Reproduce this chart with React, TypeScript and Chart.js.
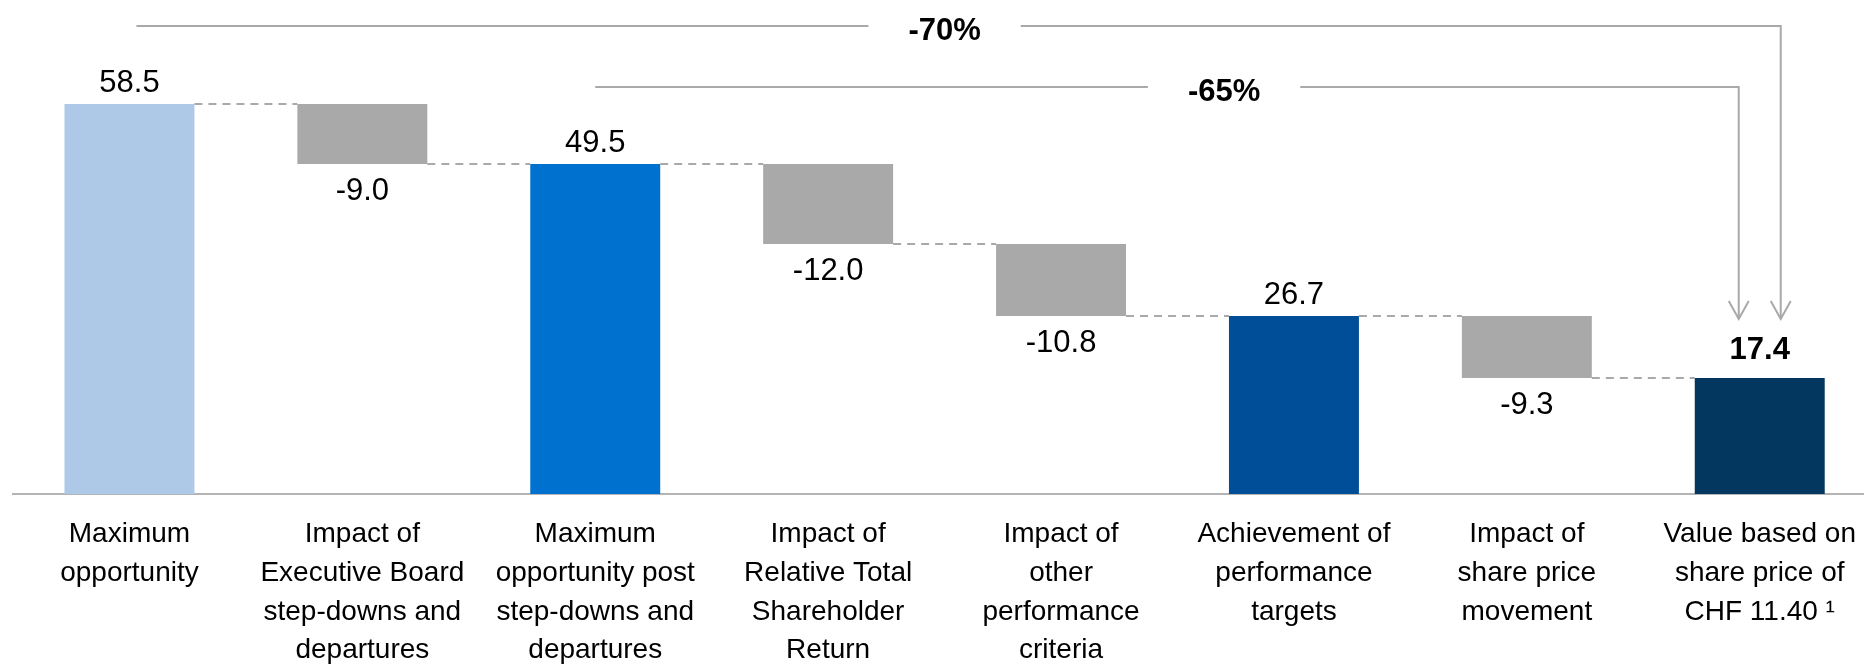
import React, { useEffect, useRef } from 'react';
import { Chart, registerables } from 'chart.js';

Chart.register(...registerables);

const FONT = "'Liberation Sans', Arial, Helvetica, sans-serif";

const categories: string[][] = [
  ['Maximum', 'opportunity'],
  ['Impact of', 'Executive Board', 'step-downs and', 'departures'],
  ['Maximum', 'opportunity post', 'step-downs and', 'departures'],
  ['Impact of', 'Relative Total', 'Shareholder', 'Return'],
  ['Impact of', 'other', 'performance', 'criteria'],
  ['Achievement of', 'performance', 'targets'],
  ['Impact of', 'share price', 'movement'],
  ['Value based on', 'share price of', 'CHF 11.40 \u00B9'],
];

const stepValues = [58.5, -9.0, 49.5, -12.0, -10.8, 26.7, -9.3, 17.4];
const isTotal = [true, false, true, false, false, true, false, true];
const boldValue = [false, false, false, false, false, false, false, true];
const barColors = ['#aec8e8', '#a9a9a9', '#0071ce', '#a9a9a9', '#a9a9a9', '#004d98', '#a9a9a9', '#04375f'];

const bracketLabels = ['-70%', '-65%'];
const bracketFrom = [0, 2];
const bracketTo = [7, 7];

// floating bars built from the step values
const floating: [number, number][] = (() => {
  let run = 0;
  return stepValues.map((v, i) => {
    if (isTotal[i]) {
      run = v;
      return [0, v] as [number, number];
    }
    const s = run;
    run = +(run + v).toFixed(2);
    return [s, run] as [number, number];
  });
})();

const waterfallPlugin = {
  id: 'waterfallExtras',
  afterDatasetsDraw(chart: any) {
    const ctx = chart.ctx as CanvasRenderingContext2D;
    const meta = chart.getDatasetMeta(0);
    const yScale = chart.scales.y;
    const xScale = chart.scales.x;
    const n = floating.length;
    const geo = meta.data.map((el: any) => {
      const p = el.getProps(['x', 'width'], true);
      return { x: p.x, w: p.width };
    });

    ctx.save();
    // dashed connectors
    ctx.strokeStyle = '#a9a9a9';
    ctx.lineWidth = 2;
    ctx.setLineDash([8, 6]);
    for (let i = 0; i < n - 1; i++) {
      const y = Math.round(yScale.getPixelForValue(floating[i][1]));
      ctx.beginPath();
      ctx.moveTo(geo[i].x + geo[i].w / 2, y);
      ctx.lineTo(geo[i + 1].x - geo[i + 1].w / 2, y);
      ctx.stroke();
    }
    ctx.setLineDash([]);

    // value labels
    ctx.fillStyle = '#000';
    ctx.textAlign = 'center';
    ctx.textBaseline = 'alphabetic';
    for (let i = 0; i < n; i++) {
      const v = stepValues[i];
      const txt = v.toFixed(1);
      ctx.font = `${boldValue[i] ? 'bold ' : ''}31px ${FONT}`;
      if (isTotal[i]) {
        const top = yScale.getPixelForValue(floating[i][1]);
        ctx.fillText(txt, geo[i].x, top - (boldValue[i] ? 19 : 12));
      } else {
        const bottom = yScale.getPixelForValue(Math.min(floating[i][0], floating[i][1]));
        ctx.fillText(txt, geo[i].x, bottom + 36);
      }
    }

    // brackets with arrows
    const levels = [26, 87];
    const labelPos = [3.5, 4.7];
    const startOffset = [7, 0];
    const endOffset = [21, -21];
    const tipY = 319;
    ctx.strokeStyle = '#a9a9a9';
    ctx.lineWidth = 2;
    for (let b = 0; b < bracketLabels.length; b++) {
      const y = levels[b];
      const x0 = xScale.getPixelForValue(bracketFrom[b]) + startOffset[b];
      const x1 = xScale.getPixelForValue(bracketTo[b]) + endOffset[b];
      const lx = xScale.getPixelForValue(labelPos[b]);
      ctx.font = `bold 31px ${FONT}`;
      const tw = ctx.measureText(bracketLabels[b]).width;
      const gap = tw / 2 + 40;
      ctx.beginPath();
      ctx.moveTo(x0, y);
      ctx.lineTo(lx - gap, y);
      ctx.moveTo(lx + gap, y);
      ctx.lineTo(x1, y);
      ctx.lineTo(x1, tipY);
      ctx.stroke();
      ctx.beginPath();
      ctx.moveTo(x1 - 10, tipY - 18);
      ctx.lineTo(x1, tipY);
      ctx.lineTo(x1 + 10, tipY - 18);
      ctx.stroke();
      ctx.fillStyle = '#000';
      ctx.fillText(bracketLabels[b], lx, y + 13.5);
    }
    ctx.restore();
  },
};

export default function App() {
  const canvasRef = useRef<HTMLCanvasElement | null>(null);

  useEffect(() => {
    if (!canvasRef.current) return;
    const chart = new Chart(canvasRef.current, {
      type: 'bar',
      data: {
        labels: categories as any,
        datasets: [
          {
            data: floating as any,
            backgroundColor: barColors,
            borderWidth: 0,
            categoryPercentage: 1,
            barPercentage: 0.558,
            borderSkipped: false,
          },
        ],
      },
      options: {
        animation: false,
        responsive: true,
        maintainAspectRatio: false,
        layout: { padding: { left: 13, right: 0, top: 0, bottom: 0 } },
        plugins: {
          legend: { display: false },
          tooltip: { enabled: false },
        },
        scales: {
          x: {
            grid: { display: false, drawTicks: false },
            border: { display: true, color: '#b4b4b4', width: 2 },
            ticks: {
              color: '#000',
              font: { family: FONT, size: 28, lineHeight: 1.385 },
              padding: 21,
              maxRotation: 0,
              minRotation: 0,
              autoSkip: false,
            },
            afterFit: (s: any) => {
              s.height = 172;
            },
          },
          y: {
            display: false,
            min: 0,
            max: 74.1,
          },
        },
      },
      plugins: [waterfallPlugin],
    });
    return () => chart.destroy();
  }, []);

  return (
    <div
      style={{
        position: 'fixed',
        left: 0,
        top: 0,
        width: '100vw',
        height: '100vh',
        overflow: 'hidden',
        background: '#fff',
      }}
    >
      <div style={{ position: 'absolute', left: 0, top: 0, width: 1877, height: 666 }}>
        <canvas ref={canvasRef} />
      </div>
    </div>
  );
}
